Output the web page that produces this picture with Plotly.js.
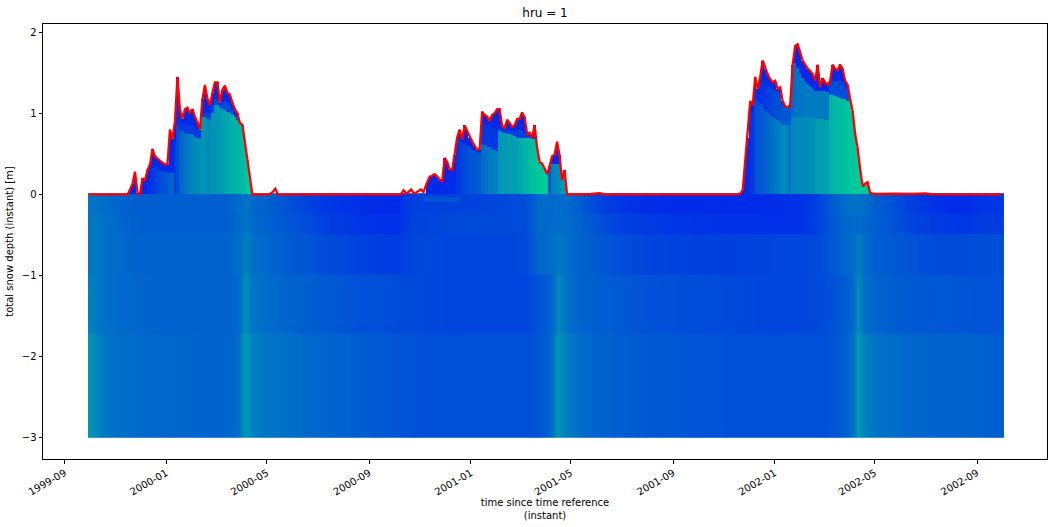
<!DOCTYPE html>
<html><head><meta charset="utf-8">
<script src="https://cdn.plot.ly/plotly-3.0.1.min.js"></script>
<style>html,body{margin:0;padding:0;background:#fff}</style></head>
<body><div id="chart" style="width:1054px;height:527px"></div>
<script>
const tickDates=['1999-09-01','2000-01-01','2000-05-01','2000-09-01','2001-01-01','2001-05-01','2001-09-01','2002-01-01','2002-05-01','2002-09-01'];
const tickLabels=['1999-09','2000-01','2000-05','2000-09','2001-01','2001-05','2001-09','2002-01','2002-05','2002-09'];
const winter=[[0,'rgb(0,0,255)'],[1,'rgb(0,255,128)']];

const soilEdgeDates=['1999-09-29','1999-10-05','1999-10-12','1999-10-20','1999-11-01','1999-11-15','1999-12-01','2000-01-01','2000-02-01','2000-03-01','2000-03-20','2000-03-30','2000-04-02','2000-04-05','2000-04-08','2000-04-12','2000-04-20','2000-05-01','2000-05-20','2000-06-10','2000-07-01','2000-08-01','2000-09-01','2000-10-01','2000-10-12','2000-11-01','2000-12-01','2001-01-01','2001-02-01','2001-03-01','2001-03-15','2001-03-30','2001-04-10','2001-04-14','2001-04-18','2001-04-25','2001-05-05','2001-05-20','2001-06-15','2001-07-15','2001-08-15','2001-09-15','2001-10-15','2001-11-15','2001-12-15','2002-01-15','2002-02-15','2002-03-05','2002-03-20','2002-04-01','2002-04-08','2002-04-12','2002-04-16','2002-04-25','2002-05-10','2002-06-01','2002-07-01','2002-08-01','2002-09-01','2002-10-03'];
const soilDepthEdges=[0.015,-0.25,-0.5,-1,-1.73,-3];
const soilLayer1=[.45,.45,.43,.41,.39,.37,.37,.37,.37,.37,.42,.43,.45,.45,.43,.40,.39,.35,.31,.26,.21,.19,.17,.17,.25,.26,.26,.27,.29,.31,.41,.42,.43,.42,.42,.40,.37,.27,.21,.18,.17,.17,.17,.17,.18,.19,.27,.37,.43,.45,.45,.45,.42,.37,.32,.24,.19,.17,.21];
const soilLayer2=[.47,.47,.45,.43,.40,.38,.37,.37,.37,.37,.41,.43,.45,.45,.43,.41,.39,.37,.33,.29,.24,.21,.19,.19,.26,.27,.29,.29,.29,.31,.41,.42,.42,.42,.42,.42,.39,.32,.25,.23,.21,.20,.19,.19,.19,.19,.27,.35,.41,.42,.42,.42,.40,.37,.33,.27,.23,.21,.24];
const soilLayer3=[.47,.47,.45,.43,.42,.39,.39,.39,.39,.39,.42,.45,.49,.50,.47,.43,.42,.39,.35,.33,.29,.26,.24,.23,.27,.28,.27,.27,.27,.29,.40,.42,.45,.48,.45,.42,.39,.35,.31,.27,.26,.25,.25,.26,.27,.27,.29,.35,.41,.43,.50,.47,.42,.37,.35,.32,.29,.29,.31];
const soilLayer4=[.50,.48,.45,.43,.41,.41,.39,.39,.39,.39,.40,.47,.53,.55,.50,.45,.43,.41,.39,.37,.35,.32,.31,.29,.29,.28,.27,.27,.27,.27,.32,.37,.47,.55,.48,.43,.39,.37,.35,.32,.31,.30,.29,.28,.27,.27,.29,.32,.37,.42,.55,.50,.43,.39,.37,.35,.34,.33,.32];
const soilLayer5=[.58,.53,.48,.45,.43,.42,.41,.40,.39,.39,.41,.53,.58,.59,.55,.50,.47,.45,.43,.41,.39,.37,.35,.33,.32,.31,.31,.31,.31,.31,.33,.38,.53,.59,.53,.47,.43,.39,.37,.35,.34,.33,.32,.31,.31,.31,.31,.33,.37,.45,.61,.57,.50,.45,.43,.40,.39,.39,.37];
const thinPatchDates=['2000-11-05','2000-12-18'];
const thinPatchDepths=[-0.03,-0.09];
const thinPatchValue=[[.33]];

const stepDays=3;
const s1Start='1999-11-14';
const s1Depth=[0,.06,.13,.28,.02,0,.2,.17,.3,.37,.56,.47,.44,.41,.39,.37,.37,.8,.68,.9,1.45,1.05,.93,1.05,1.07,1,1.05,.96,.89,.8,1.17,1.35,1.18,1.1,1.25,1.38,1.38,1.13,1.29,1.34,1.25,1.23,1.13,1.05,1,.88,.86,.65,.42,.18,0];
const s1Mid=[0,.06,.13,.28,.02,0,.2,.17,.2,.25,.38,.36,.35,.33,.32,.31,.31,.5,.5,.7,1.05,.95,.88,.88,.86,.85,.84,.82,.8,.76,.98,1.03,1,1,1.1,1.18,1.16,1.1,1.14,1.15,1.13,1.1,1.04,.98,.95,.88,.86,.65,.42,.18,0];
const s1Low=[0,.06,.13,.28,.02,0,.2,.17,.15,.2,.33,.32,.31,.3,.29,.28,.27,.27,.27,.6,.85,.8,.78,.76,.75,.74,.73,.71,.7,.68,.96,.95,.93,.92,1,1.1,1.1,1.08,1.05,1.04,1.02,1,.98,.95,.92,.88,.86,.65,.42,.18,0];
const s1LowColor=[.16,.16,.16,.16,.16,.16,.16,.16,.17,.18,.22,.24,.27,.29,.31,.33,.35,.38,.4,.24,.3,.38,.42,.45,.48,.5,.52,.54,.55,.56,.58,.58,.55,.56,.58,.58,.6,.6,.62,.64,.66,.68,.68,.7,.7,.72,.74,.76,.78,.78,.78];
const s1MidColor=[.17,.17,.17,.17,.17,.17,.17,.17,.17,.17,.17,.17,.17,.17,.17,.17,.17,.17,.17,.18,.19,.2,.22,.22,.22,.24,.24,.24,.24,.24,.26,.26,.26,.27,.27,.27,.28,.28,.28,.29,.29,.29,.3,.3,.3,.3,.3,.3,.3,.3,.3];

const s2Start='2000-11-08';
const s2Depth=[.15,.22,.23,.25,.22,.18,.16,.45,.4,.31,.3,.49,.7,.8,.68,.85,.78,.7,.65,.6,.55,.56,1.02,.98,.96,.9,.98,1,1.05,1.05,.84,.82,.92,.88,.83,.85,.93,.93,1.01,.95,.75,.76,.7,.85,.58,.4,.38,.32,.25,.35,.47,.49,.65,.48,.18,.3,0,0];
const s2Mid=[.15,.22,.23,.25,.22,.18,.16,.3,.28,.25,.25,.32,.7,.74,.66,.7,.66,.62,.6,.56,.53,.53,.88,.86,.85,.84,.83,.82,.8,.82,.8,.8,.8,.79,.78,.78,.8,.8,.78,.76,.74,.72,.7,.72,.58,.4,.38,.32,.25,.35,.37,.37,.37,.37,.18,.3,0,0];
const s2Low=[.15,.22,.23,.25,.22,.18,.16,.2,.2,.2,.2,.2,.68,.7,.64,.62,.6,.58,.56,.54,.52,.51,.62,.61,.6,.58,.56,.55,.53,.78,.77,.76,.75,.74,.73,.72,.7,.7,.7,.7,.69,.69,.68,.68,.58,.4,.38,.32,.25,.35,.37,.37,.37,.37,.18,.28,0,0];
const s2LowColor=[.16,.16,.16,.16,.16,.16,.16,.17,.17,.18,.18,.19,.22,.24,.26,.28,.3,.32,.33,.34,.35,.36,.42,.44,.46,.47,.48,.5,.5,.58,.6,.6,.6,.62,.62,.62,.62,.66,.68,.7,.72,.74,.76,.76,.78,.78,.8,.8,.8,.35,.5,.52,.55,.55,.6,.62,.62,.62];
const s2MidColor=[.16,.16,.16,.16,.16,.16,.16,.16,.16,.16,.16,.16,.16,.16,.16,.16,.16,.16,.16,.16,.16,.16,.22,.22,.22,.22,.22,.22,.22,.26,.26,.26,.26,.26,.26,.26,.26,.26,.26,.26,.26,.26,.26,.26,.3,.3,.3,.3,.3,.3,.3,.3,.3,.3,.3,.3,.3,.3];

const s3Start='2001-11-19';
const s3Depth=[.01,.05,.4,.7,1.15,1.1,1.45,1.3,1.45,1.65,1.55,1.48,1.42,1.38,1.4,1.3,1.32,1.15,1.09,1.07,1.1,1.6,1.83,1.85,1.75,1.65,1.6,1.55,1.52,1.48,1.4,1.6,1.32,1.43,1.38,1.35,1.4,1.6,1.55,1.53,1.6,1.55,1.4,1.35,1.18,1.03,.75,.57,.32,.1,.13,.15,.02,.01];
const s3Mid=[.01,.05,.4,.7,1.15,1.1,1.42,1.28,1.4,1.38,1.36,1.34,1.32,1.3,1.29,1.27,1.25,1.1,1.08,1.07,1.08,1.58,1.62,1.56,1.5,1.44,1.4,1.36,1.33,1.3,1.28,1.28,1.28,1.27,1.27,1.26,1.38,1.4,1.4,1.4,1.4,1.38,1.34,1.3,1.18,1.03,.75,.57,.32,.1,.13,.15,.02,.01];
const s3Low=[.01,.05,.4,.7,1,1,1.19,1.15,1.12,1.08,1.04,1,.98,.96,.94,.92,.9,.86,.86,.85,.85,.96,.96,.96,.96,.95,.95,.95,.94,.94,.94,.93,.93,.93,.92,.92,1.23,1.22,1.21,1.2,1.19,1.18,1.17,1.15,1.18,1.03,.75,.57,.32,.1,.13,.15,.02,.01];
const s3LowColor=[.16,.16,.17,.18,.2,.22,.3,.32,.34,.36,.38,.4,.42,.44,.46,.48,.5,.55,.55,.5,.45,.52,.52,.53,.54,.54,.55,.55,.56,.56,.57,.62,.62,.62,.63,.64,.7,.71,.72,.73,.74,.75,.76,.77,.78,.78,.79,.8,.8,.8,.8,.8,.8,.8];
const s3MidColor=[.16,.16,.16,.16,.16,.16,.18,.19,.2,.21,.22,.24,.26,.28,.3,.3,.3,.35,.35,.35,.35,.42,.44,.46,.46,.46,.48,.48,.48,.48,.48,.48,.48,.48,.48,.48,.3,.3,.3,.3,.3,.3,.3,.3,.3,.3,.3,.3,.3,.3,.3,.3,.3,.3];
const topLayerColor=.16;

const preDates=['1999-09-30','1999-11-13'];
const preDepths=[0,0];
const gap1Dates=['2000-04-14','2000-05-04','2000-05-08','2000-05-11','2000-05-14','2000-10-09','2000-10-12','2000-10-16','2000-10-21','2000-10-25','2000-11-02','2000-11-05'];
const gap1Depths=[0,0,.03,.07,0,0,.05,.01,.06,.01,.06,.03];
const gap2Dates=['2001-05-05','2001-05-25','2001-06-05','2001-06-10','2001-11-17'];
const gap2Depths=[0,.005,.015,0,0];
const postDates=['2002-05-05','2002-05-25','2002-06-15','2002-07-01','2002-07-10','2002-09-30'];
const postDepths=[.005,.01,.005,.012,0,0];

function dayList(start,n){
  const t0=Date.parse(start+'T00:00:00Z');
  const out=[];
  for(let i=0;i<n;i++) out.push(new Date(t0+i*stepDays*864e5).toISOString().slice(0,10));
  return out;
}
const seasons=[
  {start:s1Start,depth:s1Depth,mid:s1Mid,low:s1Low,lowColor:s1LowColor,midColor:s1MidColor},
  {start:s2Start,depth:s2Depth,mid:s2Mid,low:s2Low,lowColor:s2LowColor,midColor:s2MidColor},
  {start:s3Start,depth:s3Depth,mid:s3Mid,low:s3Low,lowColor:s3LowColor,midColor:s3MidColor}
];
const traces=[];
// Layers are drawn top to bottom; each one reaches slightly above its edge so no seam shows between images.
[soilLayer1,soilLayer2,soilLayer3,soilLayer4,soilLayer5].forEach((row,k)=>{
  const top=soilDepthEdges[k]+(k?0.013:0),bottom=soilDepthEdges[k+1];
  traces.push({type:'heatmap',x:soilEdgeDates,y:[top,(top+bottom)/2,bottom],z:[row,row],
    zmin:0,zmax:1,colorscale:winter,showscale:false,hoverinfo:'skip',zsmooth:'best'});
});
traces.push({type:'heatmap',x:thinPatchDates,y:thinPatchDepths,z:thinPatchValue,
  zmin:0,zmax:1,colorscale:winter,showscale:false,hoverinfo:'skip',zsmooth:false});
function barTrace(x,y,color){
  return {type:'bar',x:x,y:y,width:stepDays*864e5,offset:0,hoverinfo:'skip',showlegend:false,
    marker:{color:color,cmin:0,cmax:1,colorscale:winter,line:{width:0}}};
}
const lineX=[...preDates],lineY=[...preDepths];
const gaps=[[gap1Dates,gap1Depths],[gap2Dates,gap2Depths],[postDates,postDepths]];
seasons.forEach((s,k)=>{
  const x=dayList(s.start,s.depth.length);
  traces.push(barTrace(x,s.depth,s.depth.map(()=>topLayerColor)));
  traces.push(barTrace(x,s.mid,s.midColor));
  traces.push(barTrace(x,s.low,s.lowColor));
  x.forEach((d,i)=>{lineX.push(new Date(Date.parse(d+'T00:00:00Z')+1.5*864e5).toISOString());lineY.push(s.depth[i]);});
  lineX.push(...gaps[k][0]);lineY.push(...gaps[k][1]);
});
traces.push({type:'scatter',mode:'lines',x:lineX,y:lineY,line:{color:'#ff0000',width:2.3,shape:'linear'},hoverinfo:'skip',showlegend:false});

const font={family:'"DejaVu Sans",sans-serif',size:10,color:'#000'};
Plotly.newPlot('chart',traces,{
  width:1054,height:527,autosize:false,showlegend:false,
  paper_bgcolor:'#fff',plot_bgcolor:'#fff',barmode:'overlay',bargap:0,font:font,
  margin:{l:43,r:7,t:24,b:68,pad:0},
  title:{text:'hru = 1',font:{family:font.family,size:12,color:'#000'},x:0.5171,xanchor:'center',y:0.976,yanchor:'middle'},
  xaxis:{type:'date',range:['1999-08-06','2002-11-24'],tickmode:'array',tickvals:tickDates,ticktext:tickLabels,tickangle:-30,
    ticks:'outside',ticklen:3.5,tickwidth:1,tickcolor:'#000',showgrid:false,zeroline:false,showline:true,mirror:true,linecolor:'#000',linewidth:1,
    title:{text:'time since time reference<br>(instant)',font:font,standoff:2},automargin:false},
  yaxis:{range:[-3.26,2.1],tickmode:'array',tickvals:[-3,-2,-1,0,1,2],
    ticks:'outside',ticklen:3.5,tickwidth:1,tickcolor:'#000',showgrid:false,zeroline:false,showline:true,mirror:true,linecolor:'#000',linewidth:1,
    title:{text:'total snow depth (instant) [m]',font:font,standoff:6},automargin:false}
},{displayModeBar:false,staticPlot:true});
</script></body></html>
